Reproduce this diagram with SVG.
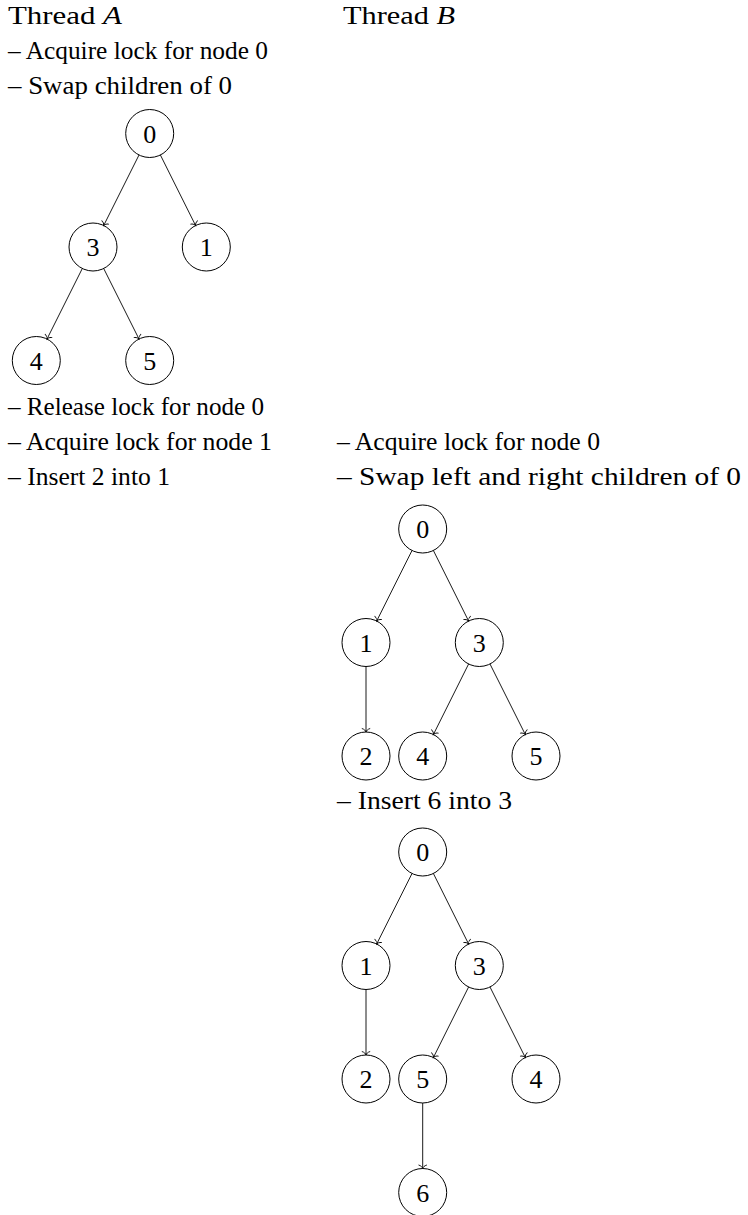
<svg xmlns="http://www.w3.org/2000/svg" width="748" height="1215" viewBox="0 0 748 1215">
<style>
text{font-family:"Liberation Serif","Times New Roman",serif;fill:#000}
.t{font-size:26px}
.n{font-size:26px;text-anchor:middle}
circle{fill:none;stroke:#000;stroke-width:1}
.e{stroke:#000;stroke-width:0.9;fill:none;marker-end:url(#to)}
</style>
<defs>
<marker id="to" markerUnits="userSpaceOnUse" markerWidth="10" markerHeight="10" viewBox="-5 -5 10 10" refX="0" refY="0" orient="auto">
<path d="M-3.4,-3.8 C-2.8,-1.6 -1.3,-0.4 0,0 C-1.3,0.4 -2.8,1.6 -3.4,3.8" fill="none" stroke="#000" stroke-width="0.9" stroke-linecap="round"/>
</marker>
</defs>
<g id="labels">
<text class="t" x="8" y="23.5" textLength="114" lengthAdjust="spacingAndGlyphs">Thread <tspan font-style="italic">A</tspan></text>
<text class="t" x="343" y="23.5" textLength="112" lengthAdjust="spacingAndGlyphs">Thread <tspan font-style="italic">B</tspan></text>
<text class="t" x="8" y="58.5" textLength="260" lengthAdjust="spacingAndGlyphs">– Acquire lock for node 0</text>
<text class="t" x="8" y="93.5" textLength="224" lengthAdjust="spacingAndGlyphs">– Swap children of 0</text>
<text class="t" x="8" y="414.5" textLength="256" lengthAdjust="spacingAndGlyphs">– Release lock for node 0</text>
<text class="t" x="8" y="449.5" textLength="264" lengthAdjust="spacingAndGlyphs">– Acquire lock for node 1</text>
<text class="t" x="8" y="484.5" textLength="162" lengthAdjust="spacingAndGlyphs">– Insert 2 into 1</text>
<text class="t" x="337" y="449.5" textLength="263" lengthAdjust="spacingAndGlyphs">– Acquire lock for node 0</text>
<text class="t" x="337" y="484.5" textLength="404" lengthAdjust="spacingAndGlyphs">– Swap left and right children of 0</text>
<text class="t" x="337" y="808.5" textLength="175" lengthAdjust="spacingAndGlyphs">– Insert 6 into 3</text>
</g>
<g id="tree1">
<g id="t1n0"><circle cx="149.7" cy="133.5" r="24"/><text class="n" x="149.7" y="142.5">0</text></g>
<g id="t1n3"><circle cx="93" cy="247" r="24"/><text class="n" x="93" y="256">3</text></g>
<g id="t1n1"><circle cx="206.3" cy="247" r="24"/><text class="n" x="206.3" y="256">1</text></g>
<g id="t1n4"><circle cx="36.3" cy="360.5" r="24"/><text class="n" x="36.3" y="369.5">4</text></g>
<g id="t1n5"><circle cx="149.7" cy="360.5" r="24"/><text class="n" x="149.7" y="369.5">5</text></g>
</g>
<g id="tree2">
<g id="t2n0"><circle cx="422.7" cy="529" r="24"/><text class="n" x="422.7" y="538">0</text></g>
<g id="t2n1"><circle cx="366" cy="642.5" r="24"/><text class="n" x="366" y="651.5">1</text></g>
<g id="t2n3"><circle cx="479.3" cy="642.5" r="24"/><text class="n" x="479.3" y="651.5">3</text></g>
<g id="t2n2"><circle cx="366" cy="756" r="24"/><text class="n" x="366" y="765">2</text></g>
<g id="t2n4"><circle cx="422.7" cy="756" r="24"/><text class="n" x="422.7" y="765">4</text></g>
<g id="t2n5"><circle cx="536" cy="756" r="24"/><text class="n" x="536" y="765">5</text></g>
</g>
<g id="tree3">
<g id="t3n0"><circle cx="422.7" cy="852" r="24"/><text class="n" x="422.7" y="861">0</text></g>
<g id="t3n1"><circle cx="366" cy="965.5" r="24"/><text class="n" x="366" y="974.5">1</text></g>
<g id="t3n3"><circle cx="479.3" cy="965.5" r="24"/><text class="n" x="479.3" y="974.5">3</text></g>
<g id="t3n2"><circle cx="366" cy="1079" r="24"/><text class="n" x="366" y="1088">2</text></g>
<g id="t3n5"><circle cx="422.7" cy="1079" r="24"/><text class="n" x="422.7" y="1088">5</text></g>
<g id="t3n4"><circle cx="536" cy="1079" r="24"/><text class="n" x="536" y="1088">4</text></g>
<g id="t3n6"><circle cx="422.7" cy="1192.5" r="24"/><text class="n" x="422.7" y="1201.5">6</text></g>
</g>
<g id="connectors">
<line class="e" x1="139" y1="155" x2="103.7" y2="225.5"/>
<line class="e" x1="160.4" y1="155" x2="195.6" y2="225.5"/>
<line class="e" x1="82.3" y1="268.5" x2="47" y2="339"/>
<line class="e" x1="103.7" y1="268.5" x2="139" y2="339"/>

<line class="e" x1="412" y1="550.5" x2="376.7" y2="621"/>
<line class="e" x1="433.4" y1="550.5" x2="468.6" y2="621"/>
<line class="e" x1="366" y1="666.5" x2="366" y2="732"/>
<line class="e" x1="468.6" y1="664" x2="433.4" y2="734.5"/>
<line class="e" x1="490" y1="664" x2="525.3" y2="734.5"/>

<line class="e" x1="412" y1="873.5" x2="376.7" y2="944"/>
<line class="e" x1="433.4" y1="873.5" x2="468.6" y2="944"/>
<line class="e" x1="366" y1="989.5" x2="366" y2="1055"/>
<line class="e" x1="468.6" y1="987" x2="433.4" y2="1057.5"/>
<line class="e" x1="490" y1="987" x2="525.3" y2="1057.5"/>
<line class="e" x1="422.7" y1="1103" x2="422.7" y2="1168.5"/>
</g>
</svg>
